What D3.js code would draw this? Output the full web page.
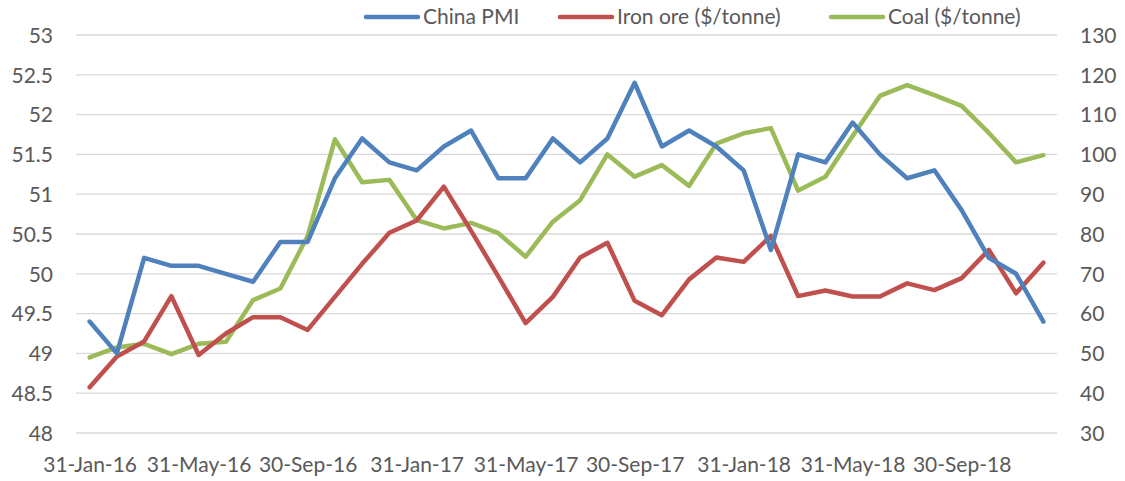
<!DOCTYPE html>
<html>
<head>
<meta charset="utf-8">
<script src="https://cdn.jsdelivr.net/npm/d3@7"></script>
<style>
  body { margin: 0; background: #fff; }
  text { font-family: Lato, "Open Sans", sans-serif; fill: #595959; }
</style>
</head>
<body>
<svg id="chart" width="1125" height="481"></svg>
<script>
// months Jan-16 .. Dec-18
var months = ["31-Jan-16","29-Feb-16","31-Mar-16","30-Apr-16","31-May-16","30-Jun-16","31-Jul-16","31-Aug-16","30-Sep-16","31-Oct-16","30-Nov-16","31-Dec-16",
              "31-Jan-17","28-Feb-17","31-Mar-17","30-Apr-17","31-May-17","30-Jun-17","31-Jul-17","31-Aug-17","30-Sep-17","31-Oct-17","30-Nov-17","31-Dec-17",
              "31-Jan-18","28-Feb-18","31-Mar-18","30-Apr-18","31-May-18","30-Jun-18","31-Jul-18","31-Aug-18","30-Sep-18","31-Oct-18","30-Nov-18","31-Dec-18"]

var pmi = [49.4,49.0,50.2,50.1,50.1,50.0,49.9,50.4,50.4,51.2,51.7,51.4,
           51.3,51.6,51.8,51.2,51.2,51.7,51.4,51.7,52.4,51.6,51.8,51.6,
           51.3,50.3,51.5,51.4,51.9,51.5,51.2,51.3,50.8,50.2,50.0,49.4]

var ironOre = [41.5,49.2,53,64.4,49.6,55,59.1,59.1,55.9,64.2,72.5,80.3,
               83.4,91.9,80.8,69.3,57.6,64.2,74.1,77.8,63.2,59.6,68.6,74.1,
               73,79.5,64.4,65.8,64.3,64.3,67.6,65.9,68.9,76,65.1,72.8]

var coal = [49,51.5,52.4,49.8,52.4,52.9,63.4,66.3,79.5,103.8,93,93.6,
            83.5,81.4,82.8,80.2,74.3,83.1,88.5,100,94.4,97.3,92.1,102.7,
            105.3,106.6,90.9,94.4,104.6,114.7,117.4,114.9,112.2,105.4,98,99.8]

var leftTicks = [48,48.5,49,49.5,50,50.5,51,51.5,52,52.5,53]
var rightTicks = [30,40,50,60,70,80,90,100,110,120,130]

var margin = {left: 76, right: 68, top: 35, bottom: 48}
var width = 1125, height = 481
var fontSize = "21px"

var svg = d3.select("#chart")

// x scale (category axis, points at band centres)
var x = d3.scalePoint()
  .domain(months)
  .range([margin.left, width - margin.right])
  .padding(0.5)

var yL = d3.scaleLinear().domain([48, 53]).range([height - margin.bottom, margin.top])
var yR = d3.scaleLinear().domain([30, 130]).range([height - margin.bottom, margin.top])

// gridlines
svg.append("g")
  .selectAll("line")
  .data(leftTicks)
  .join("line")
  .attr("x1", margin.left)
  .attr("x2", width - margin.right)
  .attr("y1", d => yL(d))
  .attr("y2", d => yL(d))
  .attr("stroke", "#d9d9d9")
  .attr("stroke-width", 1.3)

// left axis
var leftAxis = svg.append("g")
  .attr("transform", "translate(" + (margin.left - 23) + ",0)")
  .call(d3.axisLeft(yL).tickValues(leftTicks).tickSize(0).tickPadding(0).tickFormat(d3.format("")))
leftAxis.select(".domain").remove()
leftAxis.selectAll("text").style("font-size", fontSize).attr("dy", "0.35em")

// right axis
var rightAxis = svg.append("g")
  .attr("transform", "translate(" + (width - margin.right + 23) + ",0)")
  .call(d3.axisRight(yR).tickValues(rightTicks).tickSize(0).tickPadding(0))
rightAxis.select(".domain").remove()
rightAxis.selectAll("text").style("font-size", fontSize).attr("dy", "0.35em")

// bottom axis, every 4th month labelled
var bottomAxis = svg.append("g")
  .attr("transform", "translate(0," + (height - margin.bottom) + ")")
  .call(d3.axisBottom(x).tickValues(months.filter((d, i) => i % 4 == 0)).tickSize(0).tickPadding(24))
bottomAxis.select(".domain").remove()
bottomAxis.selectAll("text").style("font-size", fontSize)

// lines
var series = [
  {name: "China PMI", values: pmi, scale: yL, color: "#4f81bd"},
  {name: "Iron ore ($/tonne)", values: ironOre, scale: yR, color: "#c0504d"},
  {name: "Coal ($/tonne)", values: coal, scale: yR, color: "#9bbb59"}
]

// keep PMI on top
var drawOrder = [series[2], series[1], series[0]]
drawOrder.forEach(function(s) {
  var line = d3.line()
    .x((d, i) => x(months[i]))
    .y(d => s.scale(d))
  svg.append("path")
    .datum(s.values)
    .attr("fill", "none")
    .attr("stroke", s.color)
    .attr("stroke-width", 4.5)
    .attr("stroke-linejoin", "round")
    .attr("stroke-linecap", "round")
    .attr("d", line)
})

// legend
var legendX = [366, 560, 831]
var legend = svg.append("g")
  .selectAll("g")
  .data(series)
  .join("g")
  .attr("transform", (d, i) => "translate(" + legendX[i] + ",17)")
legend.append("line")
  .attr("x1", 0).attr("x2", 52)
  .attr("stroke", d => d.color)
  .attr("stroke-width", 4.5)
  .attr("stroke-linecap", "round")
legend.append("text")
  .attr("x", 57)
  .attr("dy", "0.35em")
  .style("font-size", fontSize)
  .text(d => d.name)
</script>
</body>
</html>
